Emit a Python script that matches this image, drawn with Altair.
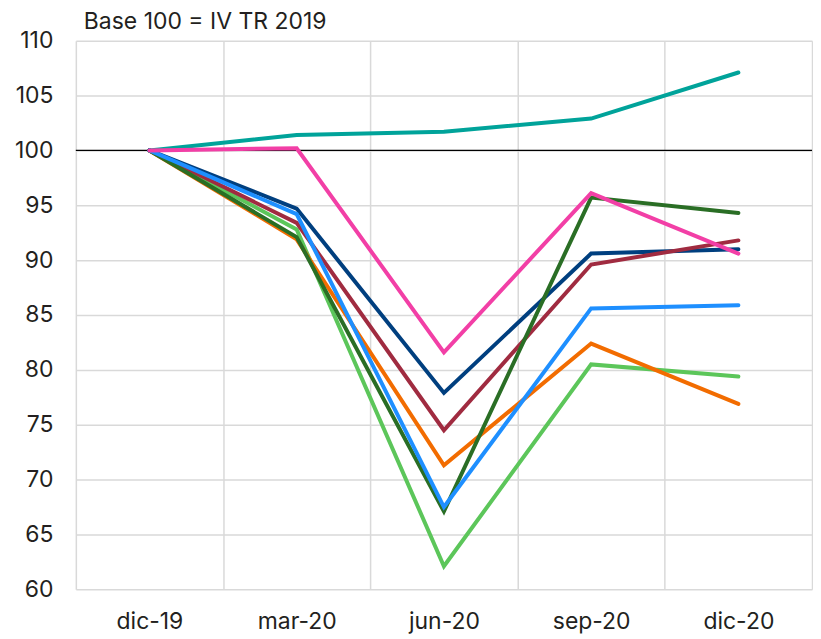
import altair as alt
import pandas as pd

periods = ["dic-19", "mar-20", "jun-20", "sep-20", "dic-20"]

series_names = ["S1", "S2", "S3", "S4", "S5", "S6", "S7", "S8"]
series_colors = ["#00A39A", "#5CC65A", "#F26C00", "#003F7F",
                 "#A02B40", "#2A6E25", "#1E8FFF", "#F23FA6"]

s1 = [100, 101.4, 101.7, 102.9, 107.1]   # teal
s2 = [100, 92.8, 62.1, 80.5, 79.4]       # light green
s3 = [100, 91.9, 71.3, 82.4, 76.9]       # orange
s4 = [100, 94.7, 77.9, 90.6, 91.0]       # navy
s5 = [100, 93.4, 74.5, 89.6, 91.8]       # maroon
s6 = [100, 92.1, 67.1, 95.7, 94.3]       # dark green
s7 = [100, 94.2, 67.5, 85.6, 85.9]       # blue
s8 = [100, 100.2, 81.6, 96.1, 90.6]      # pink

y_ticks = [60, 65, 70, 75, 80, 85, 90, 95, 100, 105, 110]
base_value = [100]

rows = []
for name, vals in zip(series_names, [s1, s2, s3, s4, s5, s6, s7, s8]):
    for p, v in zip(periods, vals):
        rows.append({"serie": name, "periodo": p, "valor": v})
df = pd.DataFrame(rows)

FONT = "Inter"
TXT = "#231F20"
GRID = "#D9D9D9"

x_enc = alt.X(
    "periodo:N",
    sort=periods,
    scale=alt.Scale(type="band", paddingInner=0, paddingOuter=0),
    axis=alt.Axis(
        title=None, tickBand="extent", grid=True, ticks=False, domain=False,
        labelAngle=0, labelPadding=21, labelFontSize=23, labelFont=FONT,
        labelColor=TXT, gridColor=GRID, gridWidth=1.5,
    ),
)
y_enc = alt.Y(
    "valor:Q",
    scale=alt.Scale(domain=[60, 110], nice=False, zero=False),
    axis=alt.Axis(
        title=None, values=y_ticks, grid=True, ticks=False, domain=False,
        labelPadding=23, labelFontSize=23, labelFont=FONT, labelColor=TXT,
        gridColor=GRID, gridWidth=1.5,
    ),
)

lines = alt.Chart(df).mark_line(
    strokeWidth=4, strokeCap="round", strokeJoin="miter"
).encode(
    x=x_enc,
    y=y_enc,
    color=alt.Color("serie:N", scale=alt.Scale(domain=series_names, range=series_colors), legend=None),
    order=alt.Order("serie:N"),
)

base = alt.Chart(pd.DataFrame({"b": base_value})).mark_rule(
    color="black", strokeWidth=1.2
).encode(y=alt.Y("b:Q"))

chart = alt.layer(base, lines).properties(
    width=738,
    height=550,
    padding={"left": 6, "top": 2, "right": 0, "bottom": 0},
    title=alt.TitleParams(
        "Base 100 = IV TR 2019", anchor="start", frame="group", fontSize=23,
        font=FONT, fontWeight="normal", color=TXT, offset=-4, dx=8,
    ),
).configure_view(stroke=None)

chart.save("out.html", embed_options={"renderer": "svg", "actions": False})
